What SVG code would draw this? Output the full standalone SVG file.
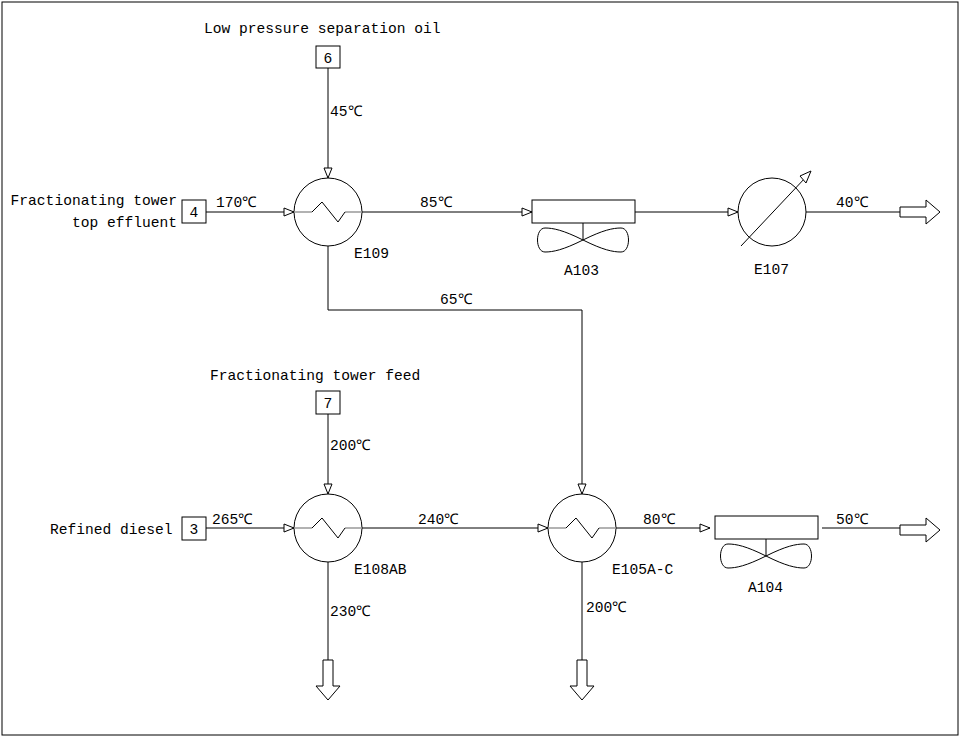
<svg xmlns="http://www.w3.org/2000/svg" width="961" height="739" viewBox="0 0 961 739">
<style>
.l{stroke:#000;stroke-width:1;fill:none}
.z{stroke:#999;stroke-width:1.5;fill:none}
.zk{stroke:#000;stroke-width:1;fill:none}
text{font-family:"Liberation Mono",monospace;font-size:14.6px;fill:#000}
</style>
<defs>
<marker id="a" markerWidth="12" markerHeight="10" refX="11" refY="5" orient="auto" markerUnits="userSpaceOnUse"><path d="M1,1 L11,5 L1,9 Z" fill="#fff" stroke="#000"/></marker>
<g id="hx"><circle r="34" class="l" fill="#fff"/><path class="z" d="M-34,0 H-16 M17,0 H34"/><path class="zk" d="M-16,0 L-6,-10 L10,10 L17,0"/></g>
<g id="fan"><rect x="-51" y="-12" width="103" height="23" class="l" fill="#fff"/><path class="l" d="M0,11 V28 M0,28 C-20,18 -30,16 -38,16 C-48,16 -48,40 -38,40 C-30,40 -20,38 0,28 C20,18 30,16 38,16 C48,16 48,40 38,40 C30,40 20,38 0,28"/></g>
<path id="ro" d="M0,-5 H26 V-12 L40,0 L26,12 V5 H0 Z" fill="#fff" stroke="#000"/>
</defs>
<rect x="2" y="2" width="956" height="733" class="l"/>
<g id="connectors">
<path class="l" d="M328,68 V178" marker-end="url(#a)"/>
<path class="l" d="M206,212 H294" marker-end="url(#a)"/>
<path class="l" d="M362,212 H532" marker-end="url(#a)"/>
<path class="l" d="M635,212 H738" marker-end="url(#a)"/>
<path class="l" d="M806,212 H900"/>
<path class="l" d="M328,246 V310 H582 V494" marker-end="url(#a)"/>
<path class="l" d="M328,414 V494" marker-end="url(#a)"/>
<path class="l" d="M206,528 H294" marker-end="url(#a)"/>
<path class="l" d="M362,528 H548" marker-end="url(#a)"/>
<path class="l" d="M616,528 H710" marker-end="url(#a)"/>
<path class="l" d="M822,528 H900"/>
<path class="l" d="M328,562 V660"/>
<path class="l" d="M582,562 V660"/>
</g>
<g id="n6"><rect x="316" y="46" width="24" height="22" class="l" fill="#fff"/><text x="328" y="63" text-anchor="middle">6</text><text x="204" y="33">Low pressure separation oil</text></g>
<g id="n4"><rect x="182" y="200" width="24" height="23" class="l" fill="#fff"/><text x="194" y="217" text-anchor="middle">4</text><text x="177" y="205" text-anchor="end">Fractionating tower</text><text x="177" y="227" text-anchor="end">top effluent</text></g>
<g id="n7"><rect x="316" y="391" width="24" height="23" class="l" fill="#fff"/><text x="328" y="408" text-anchor="middle">7</text><text x="210" y="380">Fractionating tower feed</text></g>
<g id="n3"><rect x="182" y="517" width="24" height="23" class="l" fill="#fff"/><text x="194" y="534" text-anchor="middle">3</text><text x="50" y="534">Refined diesel</text></g>
<g id="E109"><use href="#hx" x="328" y="212"/><text x="354" y="258">E109</text></g>
<g id="A103"><use href="#fan" x="583" y="212"/><text x="564" y="275">A103</text></g>
<g id="E107"><circle cx="772" cy="212" r="34" class="l"/><path class="l" d="M741,246 L806,177"/><path d="M800,176 L811,171 L806,183 Z" fill="#fff" stroke="#000"/><text x="754" y="274">E107</text></g>
<g id="out1"><use href="#ro" x="900" y="212"/></g>
<g id="E108AB"><use href="#hx" x="328" y="528"/><text x="354" y="574">E108AB</text></g>
<g id="E105"><use href="#hx" x="582" y="528"/><text x="612" y="574">E105A-C</text></g>
<g id="A104"><use href="#fan" x="766" y="528"/><text x="748" y="592">A104</text></g>
<g id="out2"><use href="#ro" x="900" y="530"/></g>
<g id="out3"><use href="#ro" transform="translate(328,660) rotate(90)"/></g>
<g id="out4"><use href="#ro" transform="translate(582,660) rotate(90)"/></g>
<g id="labels">
<text x="330" y="116">45℃</text>
<text x="216" y="207">170℃</text>
<text x="420" y="207">85℃</text>
<text x="836" y="207">40℃</text>
<text x="440" y="304">65℃</text>
<text x="330" y="450">200℃</text>
<text x="212" y="524">265℃</text>
<text x="418" y="524">240℃</text>
<text x="643" y="524">80℃</text>
<text x="836" y="524">50℃</text>
<text x="330" y="616">230℃</text>
<text x="586" y="612">200℃</text>
</g>
</svg>
